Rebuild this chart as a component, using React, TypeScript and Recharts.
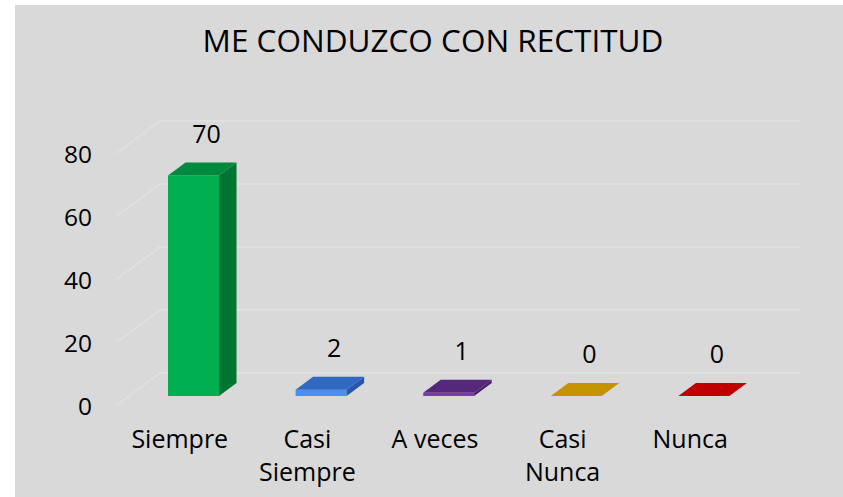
import React from "react";
import { BarChart, Bar, XAxis, YAxis, CartesianGrid, LabelList } from "recharts";

const categories = ["Siempre", "Casi Siempre", "A veces", "Casi Nunca", "Nunca"];
const values = [70, 2, 1, 0, 0];
const yTicks = [0, 20, 40, 60, 80];
const title = "ME CONDUZCO CON RECTITUD";

const palette = [
  { front: "#00b050", top: "#008a3d", side: "#007531" },
  { front: "#4a8ef2", top: "#3068c2", side: "#2757aa" },
  { front: "#7b3bab", top: "#56287b", side: "#4a2169" },
  { front: "#d8a40a", top: "#c49400", side: "#a57d00" },
  { front: "#d40000", top: "#c00000", side: "#9e0000" },
];

const data = categories.map((name, i) => ({ name, value: values[i] }));

const FONT = "'Open Sans', sans-serif";
const DX = 17.5;
const DY = 13;

const Bar3D = (props: any) => {
  const { x, y, width, height, index } = props;
  const c = palette[index % palette.length];
  const h = Math.max(0, height || 0);
  return (
    <g>
      {h > 0 && <rect x={x} y={y} width={width} height={h} fill={c.front} />}
      {h > 0 && (
        <polygon
          points={`${x + width},${y} ${x + width + DX},${y - DY} ${x + width + DX},${y + h - DY} ${x + width},${y + h}`}
          fill={c.side}
        />
      )}
      <polygon
        points={`${x},${y} ${x + DX},${y - DY} ${x + width + DX},${y - DY} ${x + width},${y}`}
        fill={c.top}
      />
    </g>
  );
};

const gridLine = (props: any) => {
  const { x1, x2, y1, index } = props;
  const stroke = "#e2e2e2";
  return (
    <g key={`g-${index}`}>
      <line x1={x1 - 13} y1={y1 + 9} x2={x1 + 30} y2={y1 - 23} stroke={stroke} strokeWidth={1.5} />
      <line x1={x1 + 30} y1={y1 - 23} x2={x2 + 32} y2={y1 - 23} stroke={stroke} strokeWidth={1.5} />
    </g>
  );
};

const YTick = (props: any) => {
  const { x, y, payload } = props;
  return (
    <text x={x} y={y + 9} textAnchor="end" dominantBaseline="central" fontFamily={FONT} fontSize={24.5} fill="#000">
      {payload.value}
    </text>
  );
};

const XTick = (props: any) => {
  const { x, y, payload } = props;
  const label = String(payload.value);
  const lines = label.length > 8 ? label.split(" ") : [label];
  const cx = x - 14;
  return (
    <text x={cx} y={y + 42} textAnchor="middle" dominantBaseline="central" fontFamily={FONT} fontSize={25} fill="#000">
      {lines.map((ln, i) => (
        <tspan key={i} x={cx} dy={i === 0 ? 0 : 33}>
          {ln}
        </tspan>
      ))}
    </text>
  );
};

const renderLabel = (props: any) => {
  const { x, y, width, value } = props;
  return (
    <text
      x={x + width / 2 + 13}
      y={y - 43}
      textAnchor="middle"
      dominantBaseline="central"
      fontFamily={FONT}
      fontSize={25}
      fill="#000"
    >
      {value}
    </text>
  );
};

export default function App() {
  return (
    <div style={{ position: "absolute", left: 0, top: 0, width: 843, height: 497, background: "#fff", overflow: "hidden" }}>
      <div style={{ position: "absolute", left: 15, top: 5, width: 828, height: 492, background: "#d9d9d9" }} />
      <div
        style={{
          position: "absolute",
          left: 0,
          top: 21,
          width: 866,
          textAlign: "center",
          fontFamily: FONT,
          fontSize: 31.5,
          lineHeight: "38px",
          color: "#000",
        }}
      >
        {title}
      </div>
      <div style={{ position: "absolute", left: 0, top: 0 }}>
        <BarChart
          width={843}
          height={497}
          data={data}
          margin={{ top: 144, right: 75, bottom: 71, left: 0 }}
          barCategoryGap={0}
        >
          <CartesianGrid horizontal={gridLine} vertical={false} />
          <XAxis
            dataKey="name"
            height={30}
            axisLine={false}
            tickLine={false}
            tickSize={0}
            tickMargin={0}
            tick={<XTick />}
            interval={0}
          />
          <YAxis
            width={130}
            domain={[0, 80]}
            ticks={yTicks}
            axisLine={false}
            tickLine={false}
            tickSize={0}
            tickMargin={38}
            tick={<YTick />}
          />
          <Bar dataKey="value" barSize={51} shape={<Bar3D />} isAnimationActive={false}>
            <LabelList dataKey="value" content={renderLabel} />
          </Bar>
        </BarChart>
      </div>
    </div>
  );
}
